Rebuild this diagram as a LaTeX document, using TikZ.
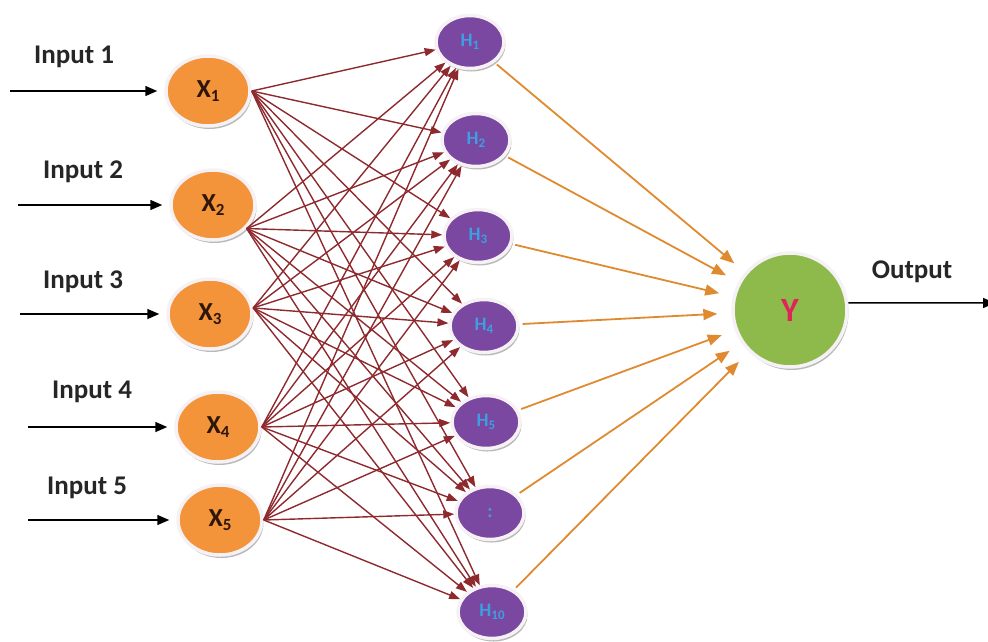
\documentclass[tikz,border=0pt]{standalone}
\usepackage{fontspec}
\setmainfont{Carlito}
\usetikzlibrary{arrows.meta,shapes.geometric,shadows}
\definecolor{xorange}{HTML}{F3933A}
\definecolor{xtext}{HTML}{2E1608}
\definecolor{hpurple}{HTML}{7A48A0}
\definecolor{htext}{HTML}{3E9FE0}
\definecolor{ygreen}{HTML}{8DBA4A}
\definecolor{ytext}{HTML}{E0245A}
\definecolor{rimc}{HTML}{F6F1F4}
\definecolor{redline}{HTML}{8E2A2E}
\definecolor{orline}{HTML}{E08A30}
\tikzset{
  shade3/.style={drop shadow={shadow xshift=1.5pt, shadow yshift=-3pt, fill=black!50, opacity=0.55}},
  inode/.style={ellipse, fill=xorange, draw=rimc, line width=3.5pt, minimum width=84pt, minimum height=70pt, inner sep=0pt, shade3, text=xtext, font=\bfseries\fontsize{26}{26}\selectfont},
  hnode/.style={ellipse, fill=hpurple, draw=rimc, line width=3.5pt, minimum width=68pt, minimum height=53pt, inner sep=0pt, shade3, text=htext, font=\bfseries\fontsize{19}{19}\selectfont},
  ynode/.style={circle, fill=ygreen, draw=rimc, line width=3.5pt, minimum size=114pt, inner sep=0pt, shade3, text=ytext, font=\bfseries\fontsize{34}{34}\selectfont},
  lbl/.style={font=\bfseries\fontsize{27}{27}\selectfont, text=black!85},
  inarrow/.style={black, line width=1.5pt, -{Triangle[length=12pt,width=10pt]}, shorten >=7pt},
  redarrow/.style={redline, line width=1.4pt, -{Triangle[length=11pt,width=8pt]}},
  orarrow/.style={orline, line width=1.8pt, -{Triangle[length=14pt,width=11pt]}, shorten >=14pt, shorten <=3pt},
}
\newcommand{\xsub}[1]{X\raisebox{-0.35ex}{\fontsize{17}{17}\selectfont #1}}
\newcommand{\hsub}[1]{H\raisebox{-0.3ex}{\fontsize{13}{13}\selectfont #1}}
\begin{document}
\begin{tikzpicture}[x=1pt,y=-1pt]
\useasboundingbox (0,0) rectangle (988,641);
% input nodes
\node[inode] (X1) at (208,91) {\xsub{1}};
\node[inode] (X2) at (213,205) {\xsub{2}};
\node[inode] (X3) at (210,314) {\xsub{3}};
\node[inode] (X4) at (218,427) {\xsub{4}};
\node[inode] (X5) at (220,520) {\xsub{5}};
% hidden nodes
\node[hnode] (H1) at (470,42) {\hsub{1}};
\node[hnode] (H2) at (476,140) {\hsub{2}};
\node[hnode] (H3) at (478,236) {\hsub{3}};
\node[hnode] (H4) at (484,326) {\hsub{4}};
\node[hnode] (H5) at (486,422) {\hsub{5}};
\node[hnode] (Hd) at (490,513) {:};
\node[hnode] (H10) at (492,612) {\hsub{10}};
% output node
\node[ynode] (Y) at (790,310) {Y};
% labels
\node[lbl] (L1) at (74,57) {Input 1};
\node[lbl] (L2) at (83,172) {Input 2};
\node[lbl] (L3) at (83,282) {Input 3};
\node[lbl] (L4) at (92,392) {Input 4};
\node[lbl] (L5) at (87,488) {Input 5};
\node[lbl] (LO) at (912,272) {Output};
% input arrows
\coordinate (s1) at (10,91);
\coordinate (s2) at (18,205);
\coordinate (s3) at (20,314);
\coordinate (s4) at (28,427);
\coordinate (s5) at (28,520);
\draw[inarrow] (s1) -- (X1);
\draw[inarrow] (s2) -- (X2);
\draw[inarrow] (s3) -- (X3);
\draw[inarrow] (s4) -- (X4);
\draw[inarrow] (s5) -- (X5);
% output arrow
\coordinate (oe) at (995,303);
\draw[black, line width=1.5pt, -{Triangle[length=12pt,width=10pt]}] (Y.7) -- (oe);
% red connections
\foreach \i/\a in {X1/east, X2/-35, X3/8, X4/east, X5/east}{
  \foreach \j in {H1,H2,H3,H4,H5,Hd,H10}{
    \draw[redarrow] (\i.\a) -- (\j);
  }
}
% orange connections
\foreach \j in {H1,H2,H3,H4,H5,Hd,H10}{
  \draw[orarrow] (\j) -- (Y);
}
\end{tikzpicture}
\end{document}
